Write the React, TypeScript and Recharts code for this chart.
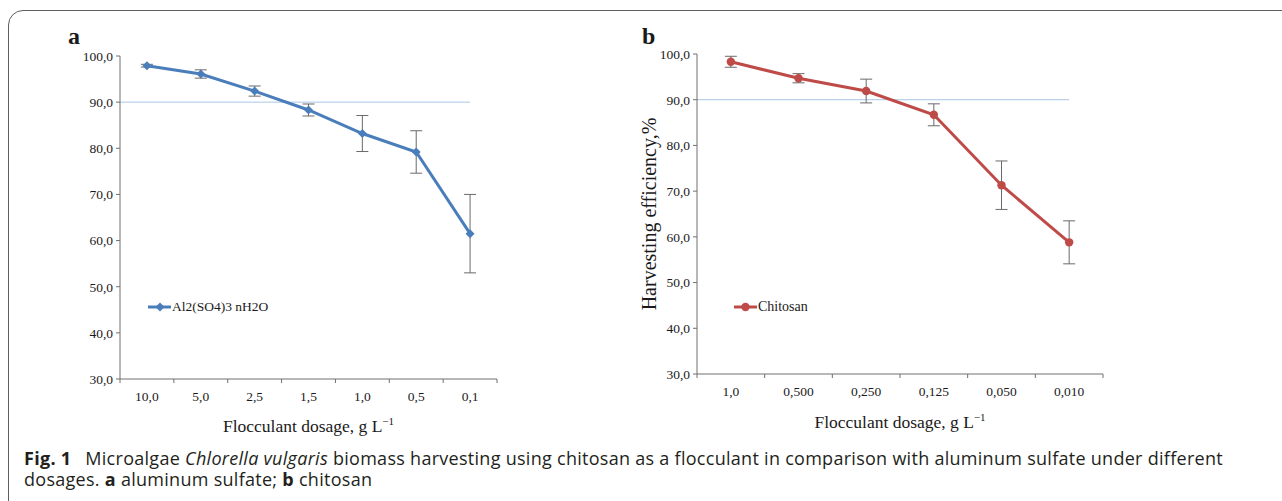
import React from 'react';
import { LineChart, Line, XAxis, YAxis, ErrorBar, ReferenceLine, Legend } from 'recharts';

// panel a: aluminum sulfate
const alumDosages = ['10,0', '5,0', '2,5', '1,5', '1,0', '0,5', '0,1'];
const alumEfficiency = [97.9, 96.1, 92.4, 88.3, 83.2, 79.2, 61.5];
const alumError = [0.3, 0.9, 1.1, 1.3, 3.9, 4.6, 8.5];

// panel b: chitosan
const chitosanDosages = ['1,0', '0,500', '0,250', '0,125', '0,050', '0,010'];
const chitosanEfficiency = [98.3, 94.7, 91.9, 86.7, 71.3, 58.8];
const chitosanError = [1.2, 1.0, 2.6, 2.4, 5.3, 4.7];

const yTicks = [30, 40, 50, 60, 70, 80, 90, 100];
const threshold = 90;

const SERIF = "'Liberation Serif', 'Times New Roman', serif";
const AXIS = '#707070';
const REF = '#a9c6e6';
const TEXT = '#1a1a1a';

const fmt = (v: number) => v.toFixed(1).replace('.', ',');

const Diamond = (p: any) => {
  const { cx, cy, fill, index } = p;
  if (cx == null || cy == null) return <g key={index} />;
  const s = 4.5;
  return <path key={index} d={`M${cx},${cy - s}L${cx + s},${cy}L${cx},${cy + s}L${cx - s},${cy}Z`} fill={fill} />;
};

const Circle = (p: any) => {
  const { cx, cy, fill, index } = p;
  if (cx == null || cy == null) return <g key={index} />;
  return <circle key={index} cx={cx} cy={cy} r={4.2} fill={fill} />;
};

type PanelProps = {
  left: number;
  width: number;
  marginTop: number;
  plotHeight: number;
  yAxisWidth: number;
  categories: string[];
  values: number[];
  errors: number[];
  color: string;
  name: string;
  marker: 'diamond' | 'circle';
  yLabel?: string;
  yLabelOffset?: number;
  legendX: number;
  legendY: number;
  legendFont: number;
  labelDy: number;
};

const Panel = (props: PanelProps) => {
  const {
    left, width, marginTop, plotHeight, yAxisWidth, categories, values, errors,
    color, name, marker, yLabel, yLabelOffset, legendX, legendY, legendFont, labelDy,
  } = props;
  const marginRight = 12;
  const xAxisHeight = 62;
  const height = marginTop + plotHeight + xAxisHeight + 4;
  const band = (width - yAxisWidth - marginRight) / categories.length;
  const data = categories.map((dose, i) => ({ dose, eff: values[i], err: errors[i] }));
  const MarkerDot = marker === 'diamond' ? Diamond : Circle;

  const DosageTick = (t: any) => {
    const { x, y, payload } = t;
    const last = payload.index === categories.length - 1;
    return (
      <g>
        <line x1={x - band / 2} x2={x - band / 2} y1={y} y2={y + 4} stroke={AXIS} />
        {last && <line x1={x + band / 2} x2={x + band / 2} y1={y} y2={y + 4} stroke={AXIS} />}
        <text x={x} y={y + 22} textAnchor="middle" fontSize={13.5} fontFamily={SERIF} fill={TEXT}>
          {payload.value}
        </text>
      </g>
    );
  };

  const renderLegend = (lp: any) => {
    const item = lp.payload && lp.payload[0];
    return (
      <div style={{ display: 'flex', alignItems: 'center', height: 16, whiteSpace: 'nowrap' }}>
        <svg width={23} height={16}>
          <line x1={0} x2={23} y1={8} y2={8} stroke={color} strokeWidth={3} />
          {marker === 'diamond'
            ? <path d="M12,3.5L16.5,8L12,12.5L7.5,8Z" fill={color} />
            : <circle cx={11.5} cy={8} r={4.2} fill={color} />}
        </svg>
        <span style={{ fontFamily: SERIF, fontSize: legendFont, color: TEXT, marginLeft: 1 }}>
          {item ? item.value : name}
        </span>
      </div>
    );
  };

  return (
    <div style={{ position: 'absolute', left, top: 0 }}>
      <LineChart width={width} height={height} data={data}
        margin={{ top: marginTop, right: marginRight, bottom: 4, left: 0 }}>
        <XAxis dataKey="dose" scale="band" interval={0} height={xAxisHeight}
          axisLine={{ stroke: AXIS }} tickLine={false} tickSize={0} tickMargin={0}
          tick={DosageTick}
          label={{
            content: (lp: any) => {
              const vb = lp.viewBox;
              return (
                <text x={vb.x + vb.width / 2} y={vb.y + labelDy} textAnchor="middle"
                  fontSize={17.5} fontFamily={SERIF} fill={TEXT}>
                  Flocculant dosage, g L<tspan dy={-7} fontSize={11}>−1</tspan>
                </text>
              );
            },
          }}
        />
        <YAxis type="number" domain={[30, 100]} ticks={yTicks} interval={0} width={yAxisWidth}
          tickFormatter={fmt} tickSize={4} tickMargin={3}
          axisLine={{ stroke: AXIS }} tickLine={{ stroke: AXIS }}
          tick={{ fontSize: 13.5, fontFamily: SERIF, fill: TEXT }}
          label={yLabel ? {
            value: yLabel, angle: -90, position: 'insideLeft', offset: yLabelOffset,
            style: { textAnchor: 'middle', fontSize: 20, fontFamily: SERIF, fill: TEXT },
          } : undefined}
        />
        <ReferenceLine y={threshold} ifOverflow="visible"
          shape={(p: any) => (
            <line x1={p.x1} y1={p.y1} x2={p.x2 - band / 2} y2={p.y2} stroke={REF} strokeWidth={1} />
          )}
        />
        <Line type="linear" dataKey="eff" name={name} stroke={color} strokeWidth={3}
          dot={(dp: any) => <MarkerDot {...dp} fill={color} />} activeDot={false}
          isAnimationActive={false}>
          <ErrorBar dataKey="err" width={6} stroke="#6a6a6a" strokeWidth={1} direction="y" />
        </Line>
        <Legend layout="vertical" align="center" verticalAlign="middle"
          wrapperStyle={{ left: legendX - left, top: legendY - 8, width: 'auto' }}
          content={renderLegend} />
      </LineChart>
    </div>
  );
};

export default function App() {
  return (
    <div style={{ position: 'absolute', left: 0, top: 0, width: 1282, height: 501, overflow: 'hidden', background: '#fff' }}>
      <div style={{
        position: 'absolute', left: 8, top: 10, width: 1400, height: 600,
        border: '1.5px solid #5e5e5e', borderRadius: 15,
      }} />
      <Panel left={30} width={479} marginTop={56} plotHeight={323} yAxisWidth={90}
        categories={alumDosages} values={alumEfficiency} errors={alumError}
        color="#4a7ebb" name="Al2(SO4)3 nH2O" marker="diamond"
        legendX={148} legendY={307} legendFont={13.5} labelDy={53} />
      <Panel left={610} width={505} marginTop={54} plotHeight={320} yAxisWidth={87}
        categories={chitosanDosages} values={chitosanEfficiency} errors={chitosanError}
        color="#be4b48" name="Chitosan" marker="circle"
        yLabel="Harvesting efficiency,%" yLabelOffset={39}
        legendX={734} legendY={307} legendFont={14} labelDy={54} />
      <svg width={1282} height={60} style={{ position: 'absolute', left: 0, top: 0, pointerEvents: 'none' }}>
        <text x={68} y={44} fontFamily={SERIF} fontWeight="bold" fontSize={24} fill={TEXT}>a</text>
        <text x={642} y={44} fontFamily={SERIF} fontWeight="bold" fontSize={24} fill={TEXT}>b</text>
      </svg>
      <div style={{
        position: 'absolute', left: 24, top: 448, width: 1250,
        fontFamily: "'Open Sans', sans-serif", fontSize: 18, lineHeight: '20.5px',
        letterSpacing: 0.28, color: '#231f20', whiteSpace: 'nowrap',
      }}>
        <div>
          <span style={{ fontWeight: 'bold', marginRight: 14 }}>Fig. 1</span>
          <span style={{ marginRight: 5 }}>Microalgae</span>
          <span style={{ fontStyle: 'italic', marginRight: 5 }}>Chlorella vulgaris</span>
          <span>biomass harvesting using chitosan as a flocculant in comparison with aluminum sulfate under different</span>
        </div>
        <div>
          <span>{'dosages. '}</span>
          <span style={{ fontWeight: 'bold' }}>a</span>
          <span>{' aluminum sulfate; '}</span>
          <span style={{ fontWeight: 'bold' }}>b</span>
          <span>{' chitosan'}</span>
        </div>
      </div>
    </div>
  );
}
